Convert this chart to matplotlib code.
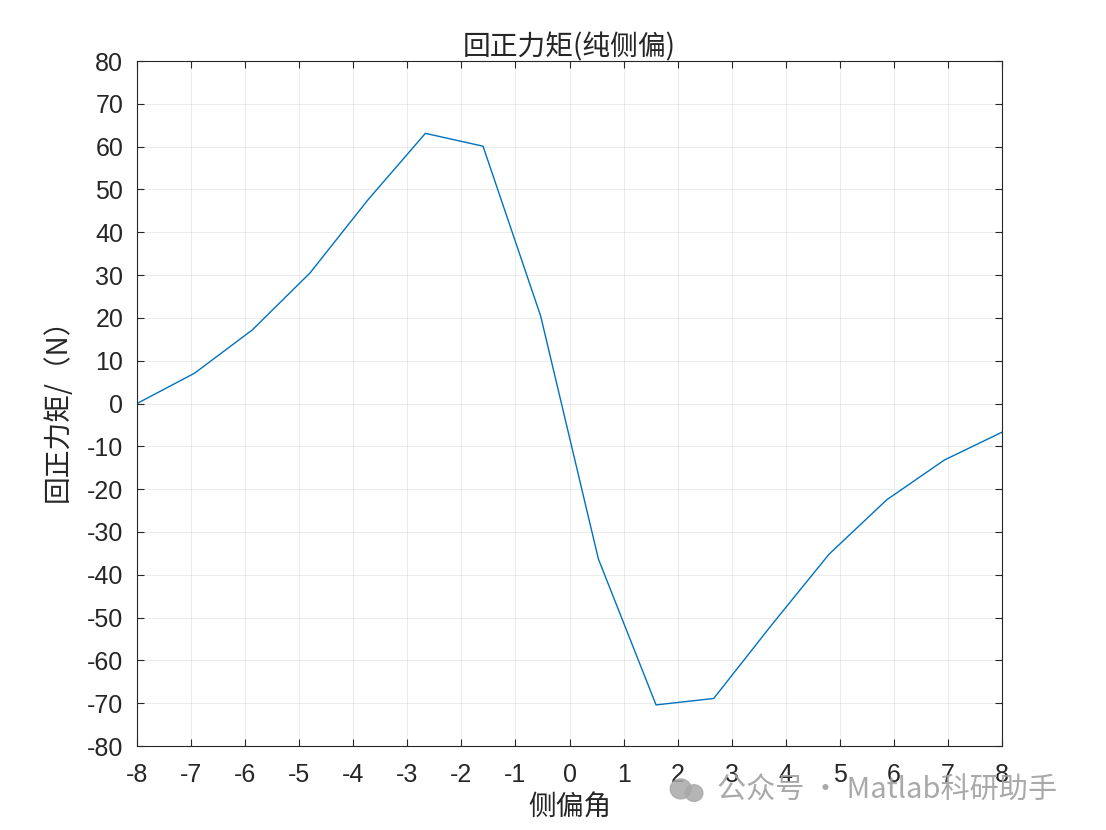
import numpy as np
import matplotlib
matplotlib.use('Agg')
import matplotlib.pyplot as plt
from matplotlib.patches import Ellipse

plt.rcParams['font.family'] = ['Liberation Sans', 'Noto Sans CJK SC', 'DejaVu Sans']

# data
slip_angle = np.linspace(-8, 8, 16)
moment = [0.0, 7.1, 17.2, 30.5, 47.5, 63.1, 60.1, 20.4,
          -36.3, -70.4, -68.9, -51.8, -35.2, -22.5, -13.2, -6.7]
x_ticks = list(range(-8, 9))
y_ticks = list(range(-80, 81, 10))

fig = plt.figure(figsize=(11.06, 8.3), dpi=100)
ax = fig.add_axes([0.1239, 0.1012, 0.7821, 0.8253])

ax.plot(slip_angle, moment, color='#0072BD', linewidth=1.0)

ax.set_xlim(-8, 8)
ax.set_ylim(-80, 80)
ax.set_xticks(x_ticks)
ax.set_yticks(y_ticks)
ax.set_xticklabels([str(t) for t in x_ticks])
ax.set_yticklabels([str(t) for t in y_ticks])
ax.tick_params(direction='in', length=5, width=0.8, top=True, right=True,
               labelsize=18, colors='#262626')
ax.tick_params(axis='x', pad=12)
ax.tick_params(axis='y', pad=10)
ax.grid(True, color='#262626', alpha=0.1, linewidth=0.6)
for s in ax.spines.values():
    s.set_color('#262626')
    s.set_linewidth(0.8)

ax.set_title('回正力矩(纯侧偏)', fontsize=20, color='#262626',
             family=['Noto Sans CJK SC'], pad=4)
ax.set_xlabel('侧偏角', fontsize=20, color='#262626',
              family=['Noto Sans CJK SC'], labelpad=4)
ax.set_ylabel('回正力矩/（N）', fontsize=20, color='#262626',
              family=['Noto Sans CJK SC', 'DejaVu Sans'], labelpad=10)

# watermark
fig.patches.append(Ellipse((0.6155, 0.0495), 0.019, 0.024, transform=fig.transFigure,
                           color='#a8a8a8', alpha=0.85))
fig.patches.append(Ellipse((0.6275, 0.0445), 0.016, 0.020, transform=fig.transFigure,
                           color='#a8a8a8', alpha=0.85))
fig.text(0.648, 0.047, '公众号 · Matlab科研助手', fontsize=21, color='#a0a0a0',
         family=['Noto Sans CJK SC', 'DejaVu Sans'], alpha=0.9, va='center')

fig.savefig('out.png', dpi=100)
